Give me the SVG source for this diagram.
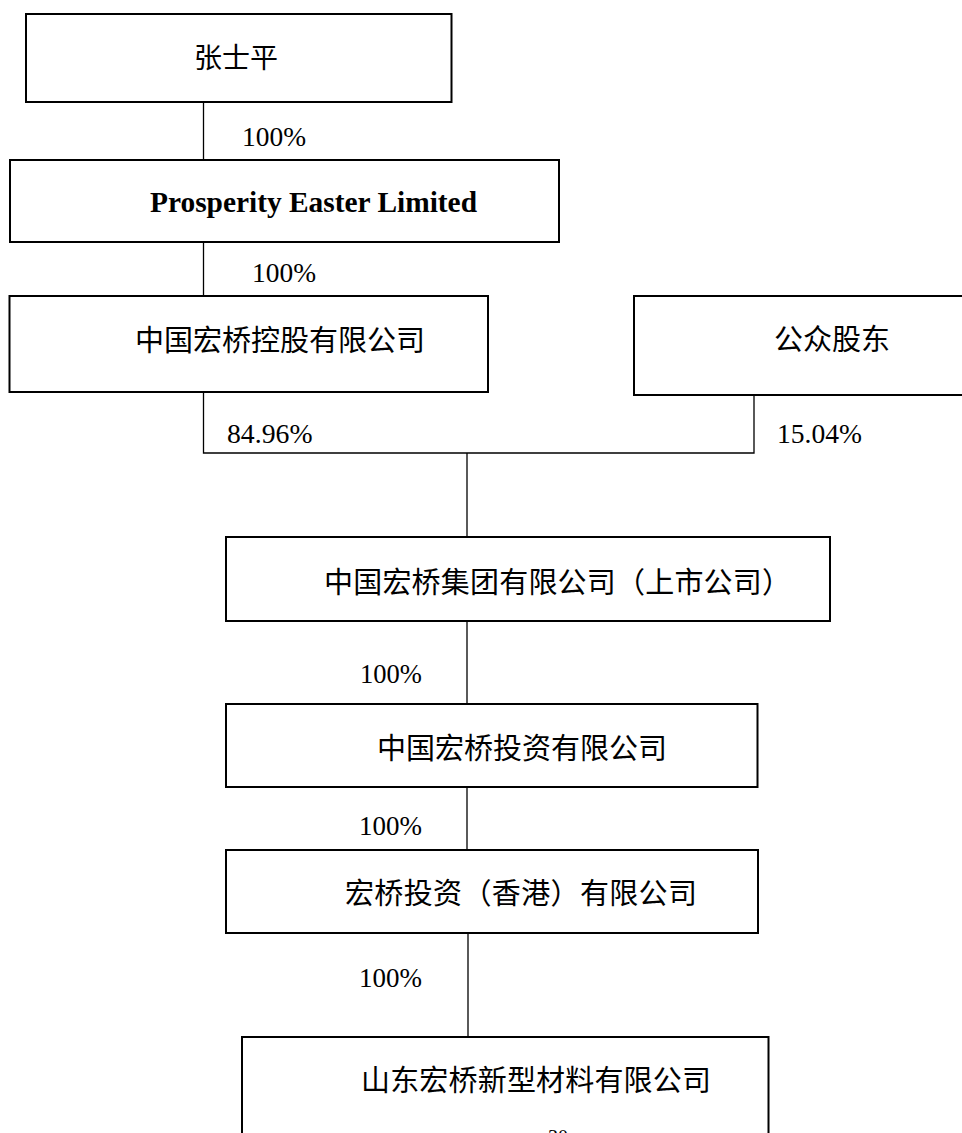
<svg xmlns="http://www.w3.org/2000/svg" width="962" height="1133" viewBox="0 0 962 1133">
<style>
.box{fill:#fff;stroke:#000;stroke-width:2}
.con{fill:none;stroke:#000;stroke-width:1.3}
.cjk{font-family:"Noto Sans CJK SC","Noto Sans CJK JP",sans-serif;font-size:29px;fill:#000}
.pct{font-family:"Liberation Serif","Times New Roman",serif;font-size:27.5px;fill:#000}
.en{font-family:"Liberation Serif","Times New Roman",serif;font-size:29px;font-weight:bold;fill:#000}
</style>
<rect width="962" height="1133" fill="#fff"/>
<g id="connectors">
<line class="con" x1="203.5" y1="102" x2="203.5" y2="160"/>
<line class="con" x1="203.5" y1="242" x2="203.5" y2="296"/>
<polyline class="con" points="203.5,392 203.5,453 754,453 754,391"/>
<line class="con" x1="467" y1="453" x2="467" y2="537"/>
<line class="con" x1="467" y1="621" x2="467" y2="704"/>
<line class="con" x1="467" y1="787" x2="467" y2="850"/>
<line class="con" x1="468" y1="933" x2="468" y2="1037"/>
<text class="pct" x="242" y="145.7" textLength="64" lengthAdjust="spacingAndGlyphs">100%</text>
<text class="pct" x="252" y="282" textLength="64" lengthAdjust="spacingAndGlyphs">100%</text>
<text class="pct" x="227" y="443.3" textLength="85.5" lengthAdjust="spacingAndGlyphs">84.96%</text>
<text class="pct" x="777" y="443.3" textLength="85" lengthAdjust="spacingAndGlyphs">15.04%</text>
<text class="pct" x="360" y="682.7" textLength="62" lengthAdjust="spacingAndGlyphs">100%</text>
<text class="pct" x="359" y="835" textLength="63" lengthAdjust="spacingAndGlyphs">100%</text>
<text class="pct" x="359" y="986.7" textLength="63" lengthAdjust="spacingAndGlyphs">100%</text>
</g>
<g id="n1">
<rect class="box" x="26" y="14" width="425.5" height="88"/>
<text class="cjk" x="194" y="67.5" style="font-size:28px" textLength="84" lengthAdjust="spacing">张士平</text>
</g>
<g id="n2">
<rect class="box" x="10" y="160" width="549" height="82"/>
<text class="en" x="150" y="212.3" textLength="327" lengthAdjust="spacingAndGlyphs">Prosperity Easter Limited</text>
</g>
<g id="n3">
<rect class="box" x="9.5" y="296" width="478.5" height="96"/>
<text class="cjk" x="135" y="351" textLength="290" lengthAdjust="spacing">中国宏桥控股有限公司</text>
</g>
<g id="n4">
<rect class="box" x="634" y="296" width="340" height="99"/>
<text class="cjk" x="774" y="349.5" textLength="116" lengthAdjust="spacing">公众股东</text>
</g>
<g id="n5">
<rect class="box" x="226" y="537" width="604" height="84"/>
<text class="cjk" x="324" y="592.5" textLength="467" lengthAdjust="spacing">中国宏桥集团有限公司（上市公司）</text>
</g>
<g id="n6">
<rect class="box" x="226" y="704" width="531.5" height="83"/>
<text class="cjk" x="377" y="759.3" textLength="290" lengthAdjust="spacing">中国宏桥投资有限公司</text>
</g>
<g id="n7">
<rect class="box" x="226" y="850" width="532" height="83"/>
<text class="cjk" x="345" y="904.3" textLength="352" lengthAdjust="spacing">宏桥投资（香港）有限公司</text>
</g>
<g id="n8">
<rect class="box" x="242" y="1037" width="526.5" height="115"/>
<text class="cjk" x="361" y="1091" textLength="350" lengthAdjust="spacing">山东宏桥新型材料有限公司</text>
<text class="pct" x="548" y="1143.5" style="font-size:20px">30</text>
</g>
</svg>
